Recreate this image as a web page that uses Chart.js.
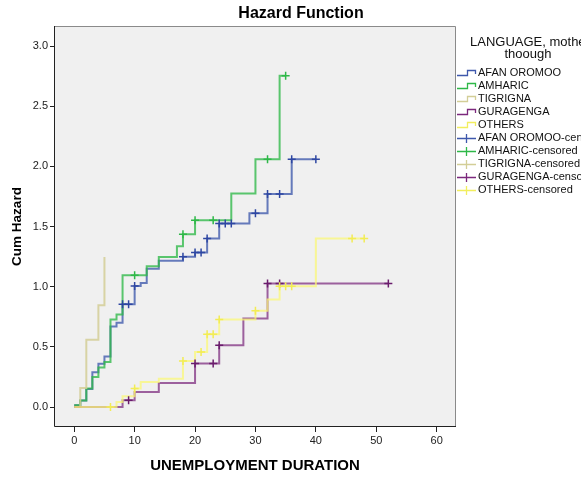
<!DOCTYPE html>
<html>
<head>
<meta charset="utf-8">
<title>Hazard Function</title>
<script src="https://cdn.jsdelivr.net/npm/chart.js@4.4.1/dist/chart.umd.min.js"></script>
<style>
  html, body { margin: 0; padding: 0; background: #fff; }
  #wrap { width: 581px; height: 477px; }
</style>
</head>
<body>
<div id="wrap"><canvas id="hazardChart" width="581" height="477"></canvas></div>
<script>
/* ---------- data: cumulative hazard steps per language group ---------- */
const groupLabels = ['AFAN OROMOO', 'AMHARIC', 'TIGRIGNA', 'GURAGENGA', 'OTHERS'];

const afanTimes     = [0, 1, 2, 3, 4, 5, 6, 7, 8, 10, 11, 12, 14, 18, 20, 22, 24, 29, 32, 36, 40];
const afanHazard    = [0.015, 0.055, 0.15, 0.29, 0.36, 0.42, 0.67, 0.70, 0.855, 1.006, 1.03, 1.15, 1.215, 1.25, 1.285, 1.40, 1.525, 1.61, 1.77, 2.06, 2.06];
const afanCensored  = [8, 9, 10, 18, 20, 21, 22, 24, 25, 26, 30, 32, 34, 36, 40];

const amharicTimes    = [0, 1, 2, 3, 4, 5, 6, 7, 8, 12, 14, 17, 18, 20, 26, 30, 34, 35];
const amharicHazard   = [0.015, 0.055, 0.153, 0.25, 0.328, 0.374, 0.727, 0.77, 1.095, 1.17, 1.248, 1.337, 1.437, 1.553, 1.775, 2.06, 2.754, 2.754];
const amharicCensored = [10, 18, 20, 23, 32, 35];

const tigrignaTimes    = [0, 1, 2, 4, 5];
const tigrignaHazard   = [0, 0.158, 0.56, 0.846, 1.248];
const tigrignaCensored = [];

const guragengaTimes    = [0, 8, 10, 14, 20, 24, 28, 32, 52];
const guragengaHazard   = [0, 0.056, 0.125, 0.2, 0.361, 0.513, 0.735, 1.026, 1.026];
const guragengaCensored = [9, 20, 23, 24, 32, 34, 52];

const othersTimes    = [0, 7, 8, 10, 11, 14, 18, 20, 22, 24, 30, 32, 34, 40, 48];
const othersHazard   = [0, 0.042, 0.089, 0.153, 0.208, 0.236, 0.383, 0.458, 0.605, 0.727, 0.80, 0.893, 1.004, 1.40, 1.40];
const othersCensored = [6, 10, 18, 21, 22, 23, 24, 30, 34, 35, 36, 46, 48];

const xTicks = [0, 10, 20, 30, 40, 50, 60];
const yTicks = [0, 0.5, 1.0, 1.5, 2.0, 2.5, 3.0];

/* ---------- styles ---------- */
const lineColors = ['rgba(62,88,172,0.78)', 'rgba(46,184,72,0.78)', 'rgba(211,206,151,0.85)', 'rgba(124,40,125,0.72)', 'rgba(251,248,115,0.72)'];
const iconColors = ['#3E58AC', '#2EB848', '#D3CE97', '#7C287D', '#F2EE5E'];
const markColors = ['#2E47A2', '#2EB848', '#CDC78E', '#6A1C6C', '#F2EC55'];
const FONT = "'Liberation Sans', Arial, sans-serif";

/* value of the step function at time t (used to place censor ticks on the curve) */
function hazardAt(times, hazard, t) {
  let v = 0;
  times.forEach((x, i) => { if (x <= t) v = hazard[i]; });
  return v;
}

const groups = [
  [afanTimes, afanHazard, afanCensored],
  [amharicTimes, amharicHazard, amharicCensored],
  [tigrignaTimes, tigrignaHazard, tigrignaCensored],
  [guragengaTimes, guragengaHazard, guragengaCensored],
  [othersTimes, othersHazard, othersCensored]
];

const datasets = [];
groups.forEach(([times, hazard], i) => {
  datasets.push({
    type: 'line',
    label: groupLabels[i],
    data: times.map((t, k) => ({ x: t, y: hazard[k] })),
    stepped: true,
    borderColor: lineColors[i],
    borderWidth: 2,
    pointRadius: 0,
    fill: false,
    order: 20 - i
  });
});
groups.forEach(([times, hazard, cens], i) => {
  datasets.push({
    type: 'scatter',
    label: groupLabels[i] + '-censored',
    data: cens.map(t => ({ x: t, y: hazardAt(times, hazard, t) })),
    pointStyle: 'cross',
    pointRadius: 4,
    pointBorderWidth: 1.5,
    borderColor: markColors[i],
    backgroundColor: markColors[i],
    showLine: false,
    order: 10 - i
  });
});

/* grey plot panel + frame + title */
const panelPlugin = {
  id: 'panel',
  beforeDraw(chart) {
    const { ctx, chartArea: a } = chart;
    ctx.save();
    ctx.fillStyle = '#fff';
    ctx.fillRect(0, 0, chart.width, chart.height);
    ctx.fillStyle = '#F0F0F0';
    ctx.fillRect(a.left, a.top, a.right - a.left, a.bottom - a.top);
    ctx.restore();
  },
  afterDraw(chart) {
    const { ctx, chartArea: a } = chart;
    ctx.save();
    ctx.lineWidth = 1;
    ctx.strokeStyle = '#8a8a8a';
    ctx.beginPath();
    ctx.moveTo(a.left, a.top + 0.5); ctx.lineTo(a.right - 0.5, a.top + 0.5); ctx.lineTo(a.right - 0.5, a.bottom);
    ctx.stroke();
    ctx.strokeStyle = '#222';
    ctx.beginPath();
    ctx.moveTo(a.left + 0.5, a.top); ctx.lineTo(a.left + 0.5, a.bottom - 0.5); ctx.lineTo(a.right, a.bottom - 0.5);
    ctx.stroke();

    ctx.fillStyle = '#000';
    ctx.font = 'bold 16px ' + FONT;
    ctx.textAlign = 'center';
    ctx.textBaseline = 'middle';
    ctx.fillText('Hazard Function', 301, 14);
    ctx.restore();
  }
};

/* legend on the right: step icons for curves, crosses for censored marks */
const legendPlugin = {
  id: 'sideLegend',
  afterDraw(chart) {
    const { ctx } = chart;
    ctx.save();
    ctx.fillStyle = '#111';
    ctx.font = '13px ' + FONT;
    ctx.textBaseline = 'middle';
    ctx.textAlign = 'left';
    ctx.fillText('LANGUAGE, mother', 470, 42);
    ctx.textAlign = 'center';
    ctx.fillText('thoough', 528, 54);

    ctx.font = '11px ' + FONT;
    ctx.textAlign = 'left';
    chart.data.datasets.forEach((ds, i) => {
      const y = 73 + i * 13;
      const g = i % 5;
      ctx.lineWidth = 1.3;
      ctx.strokeStyle = iconColors[g];
      ctx.beginPath();
      if (ds.type === 'line') {
        ctx.moveTo(457, y + 2.5); ctx.lineTo(467.5, y + 2.5); ctx.lineTo(467.5, y - 2.5);
        ctx.lineTo(475.5, y - 2.5); ctx.lineTo(475.5, y + 1);
      } else {
        ctx.moveTo(457, y + 0.5); ctx.lineTo(476, y + 0.5);
        ctx.moveTo(466.5, y - 4); ctx.lineTo(466.5, y + 5);
      }
      ctx.stroke();
      ctx.fillStyle = '#111';
      ctx.fillText(ds.label, 478, y);
    });
    ctx.restore();
  }
};

new Chart(document.getElementById('hazardChart'), {
  type: 'line',
  data: { datasets },
  options: {
    responsive: false,
    animation: false,
    devicePixelRatio: 1,
    layout: { padding: { left: 0, right: 125, top: 26, bottom: 0 } },
    plugins: { legend: { display: false }, title: { display: false }, tooltip: { enabled: false } },
    scales: {
      x: {
        type: 'linear',
        min: -3.35,
        max: 63.2,
        afterFit: s => { s.height = 50; },
        afterBuildTicks: s => { s.ticks = xTicks.map(v => ({ value: v })); },
        border: { display: false },
        grid: { drawOnChartArea: false, drawTicks: true, tickLength: 5, color: '#222' },
        ticks: { color: '#222', font: { family: FONT, size: 11 }, padding: 2, maxRotation: 0 },
        title: { display: true, text: 'UNEMPLOYMENT DURATION', color: '#000',
                 font: { family: FONT, size: 15, weight: 'bold' }, padding: { top: 0, bottom: 2 } }
      },
      y: {
        type: 'linear',
        min: -0.166,
        max: 3.167,
        afterFit: s => { s.width = 54; },
        afterBuildTicks: s => { s.ticks = yTicks.map(v => ({ value: v })); },
        border: { display: false },
        grid: { drawOnChartArea: false, drawTicks: true, tickLength: 4, color: '#222' },
        ticks: { color: '#222', font: { family: FONT, size: 11 }, padding: 2, callback: v => v.toFixed(1) },
        title: { display: true, text: 'Cum Hazard', color: '#000',
                 font: { family: FONT, size: 13.5, weight: 'bold' }, padding: { top: 9, bottom: 0 } }
      }
    }
  },
  plugins: [panelPlugin, legendPlugin]
});
</script>
</body>
</html>
